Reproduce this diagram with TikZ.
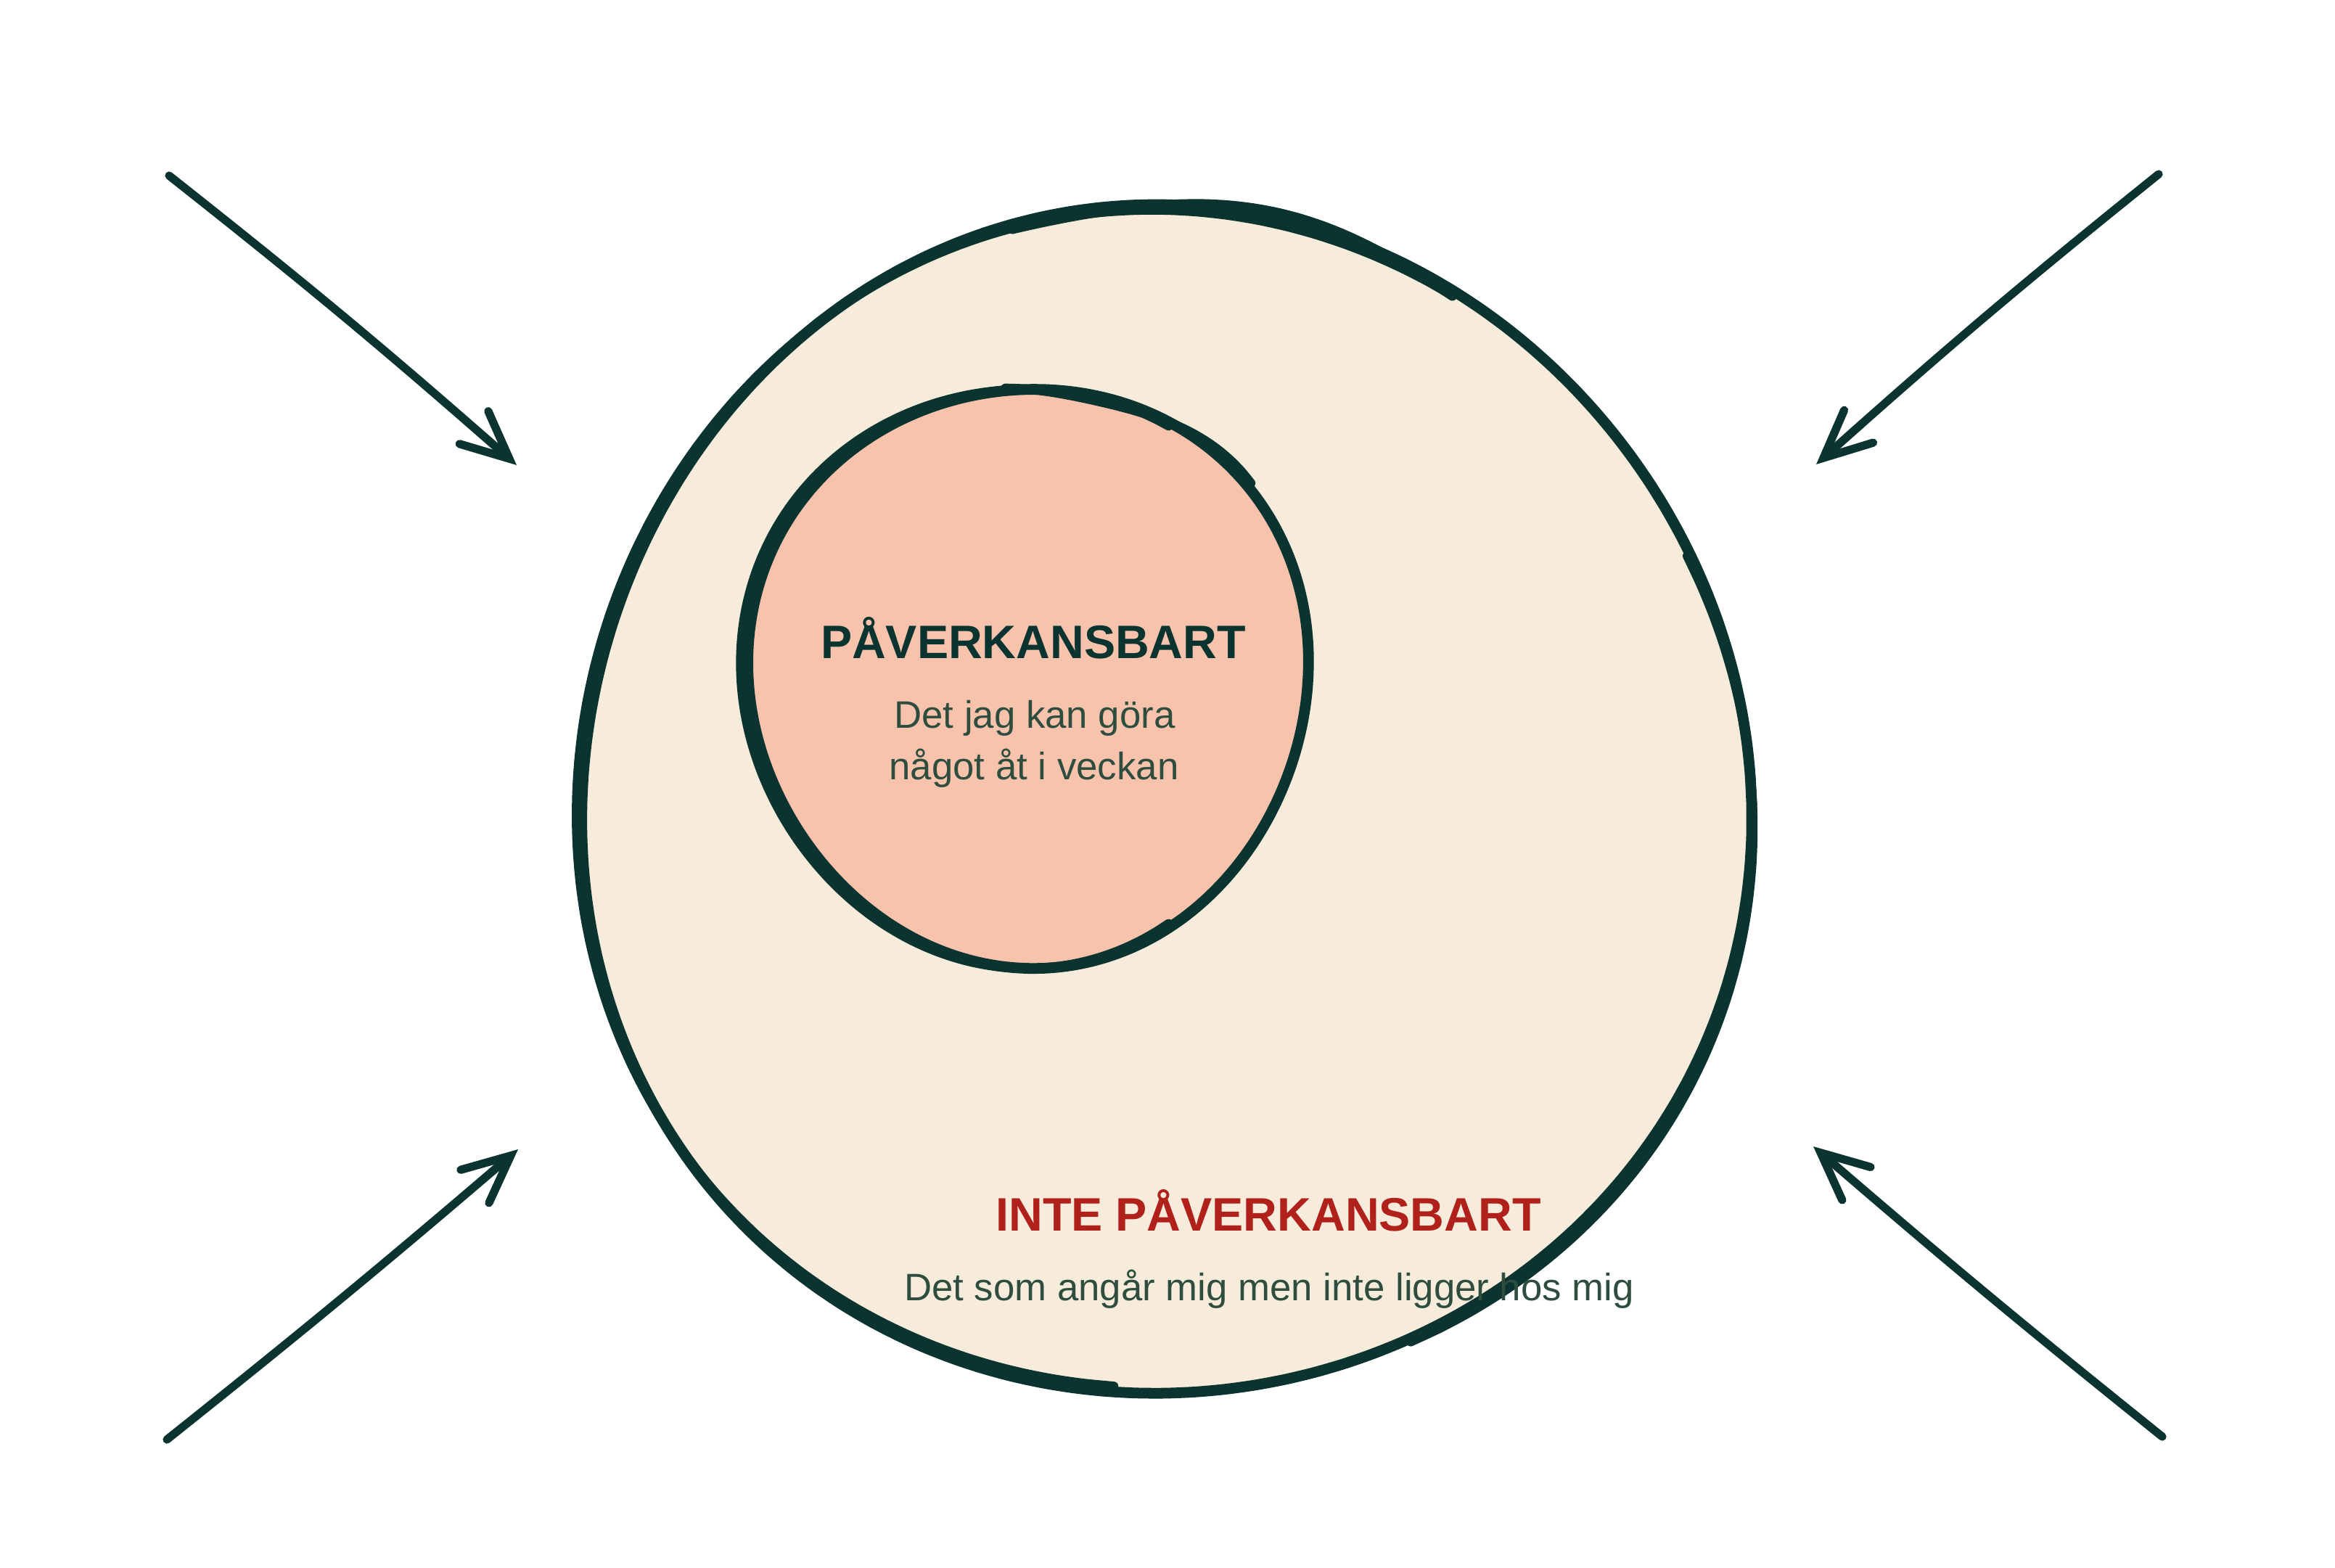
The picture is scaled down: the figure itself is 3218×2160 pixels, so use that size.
\documentclass[tikz,border=0pt]{standalone}
\usepackage{fontspec}
\setmainfont{Liberation Sans}
\usetikzlibrary{arrows.meta}
\definecolor{ink}{HTML}{0B3430}
\definecolor{cream}{HTML}{F7ECDB}
\definecolor{salmon}{HTML}{F8C3AD}
\definecolor{redtxt}{HTML}{B0211C}
\definecolor{subtxt}{HTML}{2E4D3E}
\tikzset{
  mainstroke/.style={draw=ink, line width=4.2pt, line join=round},
  sketchstroke/.style={draw=ink, line width=3.6pt, line join=round, line cap=round},
  headtxt/.style={anchor=base, font=\bfseries\fontsize{18.4}{22}\selectfont},
  subtext/.style={anchor=base, font=\fontsize{15}{20}\selectfont, text=subtxt},
  sketcharrow/.style={draw=ink, line width=3.2pt, line cap=round,
     -{Straight Barb[length=6.5mm,width=6mm,line cap=round]}},
}
\begin{document}
\begin{tikzpicture}[x=0.01cm,y=-0.01cm]
\useasboundingbox (0,0) rectangle (3218,2160);
\fill[white] (0,0) rectangle (3218,2160);

% outer circle
\path[fill=cream, mainstroke] plot[domain=0:360, samples=121, smooth cycle]
  ({1604+(806+8*sin(3*\x+30))*cos(\x)}, {1108+(819+8*sin(3*\x+30))*sin(\x)});
\path[sketchstroke] plot[domain=95:300, samples=70, smooth]
  ({1604+(806+8*sin(3*\x+30)+8*sin(2*\x+70))*cos(\x)}, {1108+(819+8*sin(3*\x+30)+8*sin(2*\x+70))*sin(\x)});
\path[sketchstroke] plot[domain=-25:65, samples=30, smooth]
  ({1604+(806+8*sin(3*\x+30)+7*sin(2*\x+10))*cos(\x)}, {1108+(819+8*sin(3*\x+30)+7*sin(2*\x+10))*sin(\x)});
\path[sketchstroke] plot[domain=255:300, samples=20, smooth]
  ({1604+(806+8*sin(3*\x+30)+8*sin(8*\x))*cos(\x)}, {1108+(819+8*sin(3*\x+30)+8*sin(8*\x))*sin(\x)});

% inner circle
\path[fill=salmon, mainstroke] plot[domain=0:360, samples=121, smooth cycle]
  ({1419+(386+6*sin(3*\x+200))*cos(\x)}, {930+(399+6*sin(3*\x+200))*sin(\x)});
\path[sketchstroke] plot[domain=60:300, samples=80, smooth]
  ({1419+(386+6*sin(3*\x+200)+10*sin(\x-90))*cos(\x)}, {930+(399+6*sin(3*\x+200)+10*sin(\x-90))*sin(\x)});
\path[sketchstroke] plot[domain=265:320, samples=20, smooth]
  ({1419+(386+6*sin(3*\x+200)+7*sin(6*\x))*cos(\x)}, {930+(399+6*sin(3*\x+200)+7*sin(6*\x))*sin(\x)});

% texts
\node[headtxt, text=ink] (inner) at (1424,907) {PÅVERKANSBART};
\node[subtext] (innersub1) at (1426,1003) {Det jag kan göra};
\node[subtext] (innersub2) at (1425,1074) {något åt i veckan};
\node[headtxt, text=redtxt] (outer) at (1748,1696) {INTE PÅVERKANSBART};
\node[subtext] (outersub) at (1749,1792) {Det som angår mig men inte ligger hos mig};

% arrows
\coordinate (tls) at (233,242);  \coordinate (tle) at (712,641);
\coordinate (trs) at (2975,240); \coordinate (tre) at (2503,640);
\coordinate (bls) at (230,1984); \coordinate (ble) at (714,1584);
\coordinate (brs) at (2980,1980); \coordinate (bre) at (2499,1580);
\draw[sketcharrow] (tls) to[bend left=1.5] (tle);
\draw[sketcharrow] (trs) to[bend right=1.5] (tre);
\draw[sketcharrow] (bls) to[bend right=1] (ble);
\draw[sketcharrow] (brs) to[bend left=1] (bre);
\end{tikzpicture}
\end{document}
